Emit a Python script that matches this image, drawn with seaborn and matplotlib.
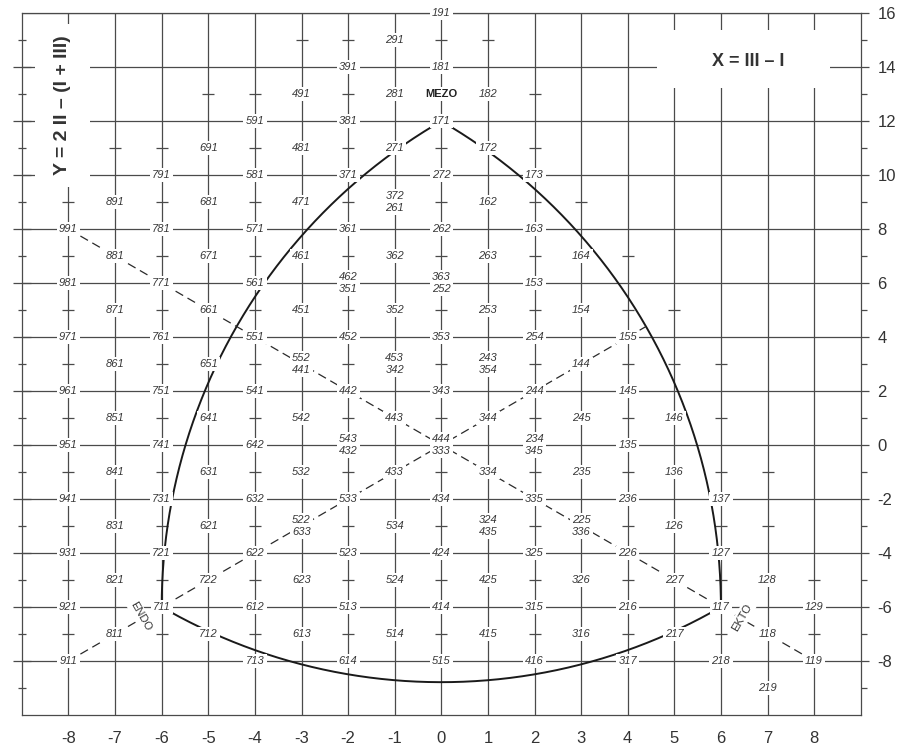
import numpy as np
import pandas as pd
import matplotlib
matplotlib.use("Agg")
import matplotlib.pyplot as plt
from matplotlib.patches import Rectangle
import seaborn as sns

# somatotype codes (I II III); stacked pairs share one position
codes = [
    "191",
    "291",
    "391", "181",
    "491", "281", "182",
    "591", "381", "171",
    "691", "481", "271", "172",
    "791", "581", "371", "272", "173",
    "891", "681", "471", "372/261", "162",
    "991", "781", "571", "361", "262", "163",
    "881", "671", "461", "362", "263", "164",
    "981", "771", "561", "462/351", "363/252", "153",
    "871", "661", "451", "352", "253", "154",
    "971", "761", "551", "452", "353", "254", "155",
    "861", "651", "552/441", "453/342", "243/354", "144",
    "961", "751", "541", "442", "343", "244", "145",
    "851", "641", "542", "443", "344", "245", "146",
    "951", "741", "642", "543/432", "444/333", "234/345", "135",
    "841", "631", "532", "433", "334", "235", "136",
    "941", "731", "632", "533", "434", "335", "236", "137",
    "831", "621", "522/633", "534", "324/435", "225/336", "126",
    "931", "721", "622", "523", "424", "325", "226", "127",
    "821", "722", "623", "524", "425", "326", "227", "128",
    "921", "711", "612", "513", "414", "315", "216", "117", "129",
    "811", "712", "613", "514", "415", "316", "217", "118",
    "911", "713", "614", "515", "416", "317", "218", "119",
    "219",
]

# rows of small "+" marks (odd Y) and their x extent
plus_y = [15, 13, 11, 9, 7, 5, 3, 1, -1, -3, -5, -7]
plus_xmin = [-3, -5, -8, -8, -8, -8, -8, -8, -8, -8, -8, -8]
plus_xmax = [1, 2, 2, 3, 4, 5, 6, 6, 7, 7, 8, 8]

# triangle corners: mezo, endo, ekto
corner_names = ["MEZO", "ENDO", "EKTO"]
corner_x = [0, -6, 6]
corner_y = [12, -6, -6]

x_ticks = list(range(-8, 9))
y_ticks = list(range(-8, 17, 2))


def soma_xy(code):
    i, ii, iii = int(code[0]), int(code[1]), int(code[2])
    return iii - i, 2 * ii - (i + iii)


df = pd.DataFrame({"code": codes})
df["x"] = [soma_xy(c.split("/")[0])[0] for c in codes]
df["y"] = [soma_xy(c.split("/")[0])[1] for c in codes]

sns.set_style("white")
plt.rcParams["font.family"] = ["Liberation Sans", "DejaVu Sans"]
plt.rcParams["axes.unicode_minus"] = False

fig = plt.figure(figsize=(9.01, 7.5), dpi=100)
ax = fig.add_axes([0.0243, 0.0467, 0.931, 0.9357])
ax.set_xlim(-9, 9)
ax.set_ylim(-10, 16)

grid_c = "#4a4a4a"
# grid
ax.vlines(x_ticks, -10, 16, color=grid_c, lw=0.9, zorder=1)
ax.hlines(y_ticks, -9, 9, color=grid_c, lw=0.9, zorder=1)

# plus marks
occupied = set(zip(df["x"], df["y"])) | {(0, 13)}
px, py = [], []
for yy, a, b in zip(plus_y, plus_xmin, plus_xmax):
    for xx in range(a, b + 1):
        if (xx, yy) not in occupied:
            px.append(xx)
            py.append(yy)
ax.plot(px, py, ls="none", marker="_", ms=9, mew=0.9, color=grid_c, zorder=1)

# left axis crosses
ly = np.arange(-9, 16)
ax.plot(np.full(len(ly[ly % 2 == 0]), -9), ly[ly % 2 == 0], ls="none", marker="_",
        ms=13, mew=0.9, color=grid_c, clip_on=False, zorder=1)
ax.plot(np.full(len(ly[ly % 2 != 0]), -9), ly[ly % 2 != 0], ls="none", marker="_",
        ms=6, mew=0.9, color=grid_c, clip_on=False, zorder=1)

# somatochart outline: arcs centred on opposite corner (y scaled by 1/sqrt3)
s3 = np.sqrt(3)
cu = np.array(corner_x, float)
cv = np.array(corner_y, float) / s3
for a, b, c in [(0, 2, 1), (2, 1, 0), (1, 0, 2)]:
    r = np.hypot(cu[a] - cu[c], cv[a] - cv[c])
    t0 = np.arctan2(cv[a] - cv[c], cu[a] - cu[c])
    t1 = np.arctan2(cv[b] - cv[c], cu[b] - cu[c])
    if t1 - t0 > np.pi:
        t1 -= 2 * np.pi
    if t0 - t1 > np.pi:
        t1 += 2 * np.pi
    t = np.linspace(t0, t1, 200)
    sns.lineplot(x=cu[c] + r * np.cos(t), y=(cv[c] + r * np.sin(t)) * s3, ax=ax,
                 sort=False, estimator=None, color="#1a1a1a", lw=1.4, zorder=2)

# diagonals
d_end = np.sqrt(108) - 6  # y = x meets the right arc
sns.lineplot(x=[-8, 8], y=[8, -8], ax=ax, sort=False, estimator=None,
             color="#2a2a2a", lw=0.9, linestyle=(0, (7, 4)), zorder=2)
sns.lineplot(x=[-8, d_end], y=[-8, d_end], ax=ax, sort=False, estimator=None,
             color="#2a2a2a", lw=0.9, linestyle=(0, (7, 4)), zorder=2)

# code labels
box = dict(boxstyle="square,pad=0.2", fc="white", ec="none")
for _, row in df.iterrows():
    ax.text(row["x"], row["y"], row["code"].replace("/", "\n"), ha="center", va="center",
            fontsize=8, style="italic", color="#383838", linespacing=1.2,
            bbox=box, zorder=4)

ax.text(0, 13, corner_names[0], ha="center", va="center", fontsize=8, fontweight="bold",
        color="#222222", bbox=box, zorder=4)
ax.text(-6.45, -6.35, corner_names[1], ha="center", va="center", fontsize=8,
        rotation=-60, color="#333333", bbox=box, zorder=4)
ax.text(6.45, -6.4, corner_names[2], ha="center", va="center", fontsize=8,
        rotation=60, color="#333333", bbox=box, zorder=4)

# formula boxes
ax.add_patch(Rectangle((-8.72, 9.55), 1.18, 6.05, fc="white", ec="none", zorder=3))
ax.text(-8.12, 12.6, "Y = 2 II \u2013 (I + III)", rotation=90, ha="center", va="center",
        fontsize=14, fontweight="bold", color="#333333", zorder=4)
ax.add_patch(Rectangle((4.63, 13.22), 3.71, 2.15, fc="white", ec="none", zorder=3))
ax.text(6.58, 14.2, "X = III \u2013 I", ha="center", va="center",
        fontsize=13, fontweight="bold", color="#333333", zorder=4)

# axes frame and ticks
for sp in ax.spines.values():
    sp.set_color(grid_c)
    sp.set_linewidth(0.9)
ax.yaxis.tick_right()
ax.set_yticks(y_ticks)
ax.set_yticks(range(-9, 16, 2), minor=True)
ax.set_xticks(x_ticks)
ax.set_xticks(np.arange(-8.5, 9, 1), minor=True)
ax.tick_params(axis="y", which="major", direction="out", length=6, width=0.9,
               color=grid_c, labelsize=12, labelcolor="#333333", pad=6)
ax.tick_params(axis="y", which="minor", direction="out", length=4, width=0.9, color=grid_c)
ax.tick_params(axis="x", which="major", direction="inout", length=9, width=0.9,
               color=grid_c, labelsize=12, labelcolor="#333333", pad=7)
ax.tick_params(axis="x", which="minor", direction="out", length=3, width=0.9, color=grid_c)
ax.set_xlabel("")
ax.set_ylabel("")

fig.savefig("out.png", dpi=100)
